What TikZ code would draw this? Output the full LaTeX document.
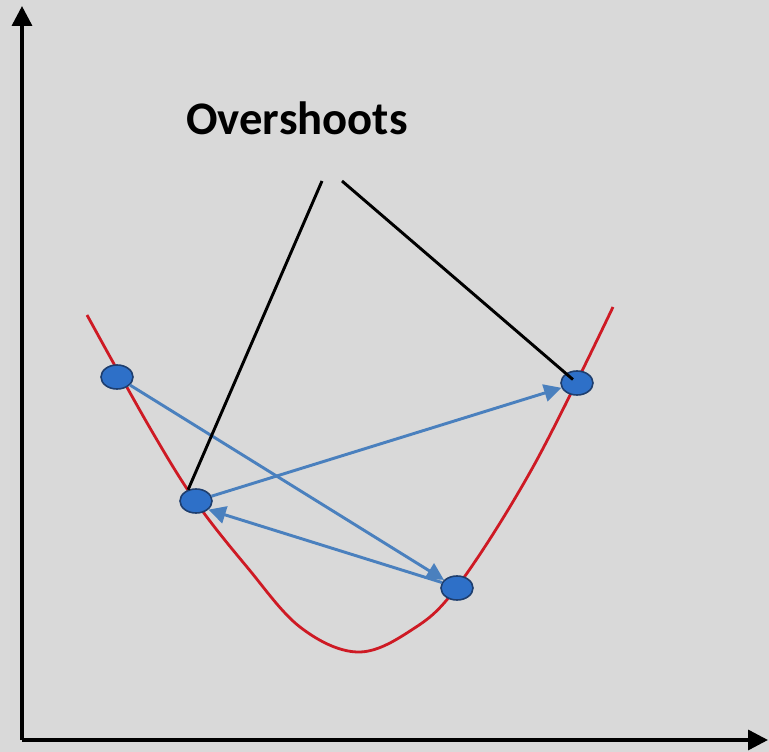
\documentclass[tikz,border=0pt]{standalone}
\usepackage{fontspec}
\newfontfamily\labelfont{Carlito}
\usetikzlibrary{arrows.meta,shapes.geometric}
\definecolor{bg}{RGB}{217,217,217}
\definecolor{curvered}{RGB}{206,26,36}
\definecolor{dotfill}{RGB}{46,112,200}
\definecolor{dotline}{RGB}{30,62,110}
\definecolor{arrowblue}{RGB}{74,128,190}
\tikzset{
  axis/.style={line width=2.6pt,-{Triangle[length=15pt,width=15pt]}},
  dot/.style={ellipse,draw=dotline,line width=1.2pt,fill=dotfill,minimum width=24pt,minimum height=18pt,inner sep=0pt},
  moveline/.style={arrowblue,line width=2.2pt,-{Triangle[length=13pt,width=13pt]}},
  pointer/.style={black,line width=2.2pt},
  curve/.style={curvered,line width=2.1pt},
  title/.style={font=\labelfont\bfseries\fontsize{35}{40}\selectfont}
}
\begin{document}
\begin{tikzpicture}[x=0.75pt,y=-0.75pt]
\fill[bg] (0,0) rectangle (769,752);
\useasboundingbox (0,0) rectangle (769,752);
% axes
\coordinate (origin) at (22,740);
\coordinate (ytip) at (22,6);
\coordinate (xtip) at (768,740);
\draw[axis] (origin) -- (ytip);
\draw[axis] (origin) -- (xtip);
% curve
\draw[curve] plot[smooth,tension=0.6] coordinates {(87,315) (150,428) (196,502) (247,567) (300,627) (357,652) (410,631) (457,587) (533,467) (613,307)};
% dots
\node[dot] (d1) at (117,377) {};
\node[dot] (d2) at (196,501) {};
\node[dot] (d3) at (457,588) {};
\node[dot] (d4) at (577,383) {};
% moves
\draw[moveline] (d1) -- (d3);
\draw[moveline] (d2) -- (d4);
\draw[moveline] (d3.160) -- (d2.-35);
% label and pointers
\node[title] (lbl) at (297,118) {Overshoots};
\coordinate (p1) at (322,181);
\coordinate (p2) at (342,181);
\draw[pointer] (p1) -- (d2.125);
\draw[pointer,shorten >=4pt] (p2) -- (d4.center);
\end{tikzpicture}
\end{document}
